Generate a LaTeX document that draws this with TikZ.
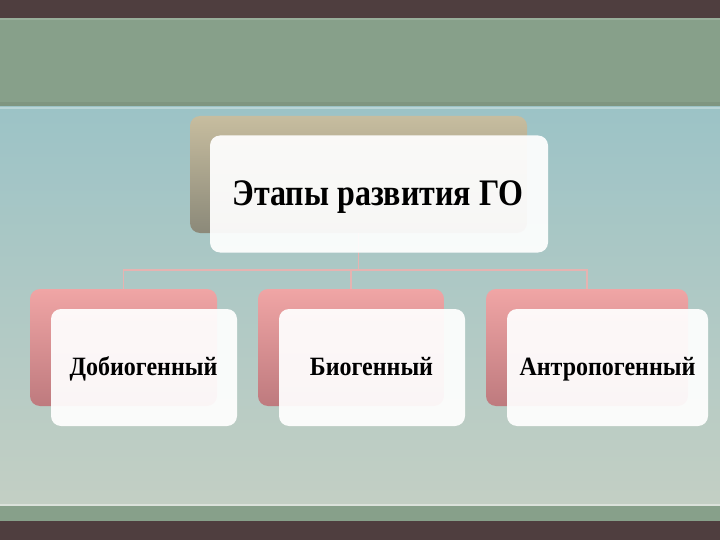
\documentclass[tikz,border=0pt]{standalone}
\usepackage{fontspec}
\setmainfont{Liberation Serif}
\definecolor{darkbar}{HTML}{4F3E3F}
\definecolor{greenband}{HTML}{87A08A}
\definecolor{bluetop}{HTML}{9CC3C6}
\definecolor{bluebot}{HTML}{C3CFC4}
\definecolor{tantop}{HTML}{C7BD9F}
\definecolor{tanbot}{HTML}{8B8979}
\definecolor{pinktop}{HTML}{F0A5A5}
\definecolor{pinkbot}{HTML}{BE7A7E}
\definecolor{linkcol}{HTML}{E6B3B1}
\tikzset{
  backtop/.style={shade, top color=tantop, bottom color=tanbot, rounded corners=10pt, minimum width=337pt, minimum height=117pt, inner sep=0pt},
  backkid/.style={shade, top color=pinktop, bottom color=pinkbot, rounded corners=10pt, minimum height=117pt, inner sep=0pt},
  frontbox/.style={fill=white, fill opacity=0.93, rounded corners=10pt, minimum height=117pt, inner sep=0pt},
  titletext/.style={anchor=base, inner sep=0pt, text=black, font=\bfseries\fontsize{32}{38}\selectfont},
  kidtext/.style={anchor=base, inner sep=0pt, text=black, font=\bfseries\fontsize{24}{28}\selectfont},
  link/.style={draw=linkcol, line width=1.5pt}
}
\begin{document}
\begin{tikzpicture}[x=1pt,y=-1pt]
\useasboundingbox (0,0) rectangle (720,540);
% background
\fill[darkbar] (0,0) rectangle (720,18);
\fill[greenband] (0,18) rectangle (720,107);
\fill[white, opacity=0.15] (0,18) rectangle (720,20);
\fill[black, opacity=0.06] (0,102) rectangle (720,107);
\shade[top color=bluetop, bottom color=bluebot] (0,107) rectangle (720,506);
\fill[white, opacity=0.3] (0,107) rectangle (720,109);
\fill[white, opacity=0.4] (0,504) rectangle (720,506);
\fill[greenband] (0,506) rectangle (720,521);
\fill[darkbar] (0,521) rectangle (720,540);
% back boxes
\node[backtop] (tb) at (358.5,174.5) {};
\coordinate (b1) at (123.5,289);
\coordinate (b2) at (351,289);
\coordinate (b3) at (587,289);
% connectors
\coordinate (bus) at (358.5,270);
\draw[link] (tb.south) -- (bus);
\draw[link] (bus) -| (b1);
\draw[link] (bus) -| (b2);
\draw[link] (bus) -| (b3);
\node[backkid, minimum width=187pt] (k1) at (123.5,347.5) {};
\node[backkid, minimum width=186pt] (k2) at (351,347.5) {};
\node[backkid, minimum width=202pt] (k3) at (587,347.5) {};
% front boxes
\node[frontbox, minimum width=338pt] (tf) at (379,194) {};
\node[frontbox, minimum width=186pt] (f1) at (144,367.5) {};
\node[frontbox, minimum width=186pt] (f2) at (372,367.5) {};
\node[frontbox, minimum width=201pt] (f3) at (607.5,367.5) {};
% texts
\node[titletext] (t0) at (378,206) {\scalebox{1}[1.17]{Этапы развития ГО}};
\node[kidtext] (t1) at (143.5,375) {\scalebox{1}[1.1]{Добиогенный}};
\node[kidtext] (t2) at (371.5,375) {\scalebox{1}[1.1]{Биогенный}};
\node[kidtext] (t3) at (607.5,375) {\scalebox{1}[1.1]{Антропогенный}};
\end{tikzpicture}
\end{document}
